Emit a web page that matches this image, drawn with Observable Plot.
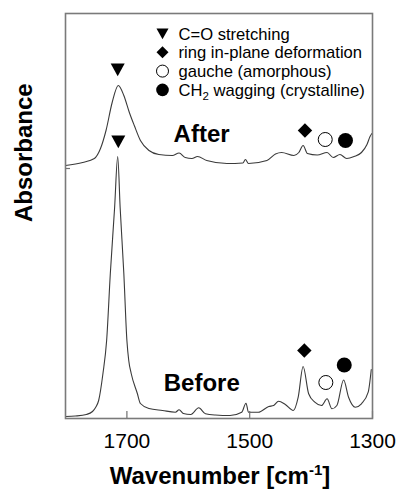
<!DOCTYPE html>
<html>
<head>
<meta charset="utf-8">
<script src="https://cdn.jsdelivr.net/npm/d3@7"></script>
<script src="https://cdn.jsdelivr.net/npm/@observablehq/plot@0.6"></script>
<style>
  html, body { margin: 0; padding: 0; background: #fff; }
  #chart { width: 401px; height: 489px; }
</style>
</head>
<body>
<div id="chart"></div>
<script>
// ---- data ----
const wavenumberTicks = [1700, 1500, 1300];
const absorbanceTicks = [2.5];

const afterWn  = [1800,1772,1753,1743,1734,1724,1714,1705,1696,1688,1678,1664,1648,1626,1615,1605,1594,1585,1570,1537,1511,1507,1502,1472,1458,1448,1428,1420,1413,1406,1390,1374,1364,1353,1342,1330,1318,1309,1304,1301];
const afterAbs = [2.53,2.56,2.60,2.70,2.88,3.16,3.33,3.23,3.06,2.93,2.78,2.68,2.64,2.63,2.655,2.61,2.60,2.62,2.58,2.55,2.555,2.59,2.55,2.58,2.645,2.66,2.63,2.66,2.73,2.65,2.635,2.66,2.61,2.64,2.60,2.62,2.66,2.74,2.82,2.85];

const beforeWn  = [1800,1784,1766,1756,1751,1746,1739,1733,1727,1720,1715,1711,1705,1700,1697,1693,1683,1678,1664,1642,1621,1615,1608,1596,1583,1572,1556,1532,1513,1506,1502,1486,1469,1461,1453,1442,1429,1421,1413,1404,1394,1383,1374,1366,1358,1347,1339,1328,1318,1307,1302];
const beforeAbs = [0.02,0.025,0.04,0.07,0.11,0.18,0.45,0.78,1.45,2.11,2.62,2.11,1.45,0.78,0.58,0.45,0.25,0.15,0.10,0.08,0.063,0.087,0.05,0.04,0.107,0.047,0.035,0.03,0.063,0.153,0.063,0.063,0.12,0.13,0.173,0.14,0.08,0.213,0.52,0.247,0.163,0.13,0.197,0.097,0.13,0.385,0.213,0.113,0.147,0.263,0.49];

const bandNames = ["C=O stretching", "ring in-plane deformation", "gauche (amorphous)", "CH2 wagging (crystalline)"];

const markerSpectrum = ["After","After","After","After","Before","Before","Before","Before"];
const markerBand     = [0,1,2,3,0,1,2,3];
const markerWn       = [1715,1410,1377,1344,1714,1411,1376,1346];
const markerAbs      = [3.49,2.88,2.79,2.78,2.77,0.68,0.36,0.535];

const spectrumLabels = ["After", "Before"];
const labelWn  = [1624, 1640];
const labelAbs = [2.763, 0.273];

const xLabel = "Wavenumber [cm-1]";
const yLabel = "Absorbance";

// ---- build tables ----
const spectra = [
  ...afterWn.map((w, i) => ({spectrum: "After", wn: w, abs: afterAbs[i]})),
  ...beforeWn.map((w, i) => ({spectrum: "Before", wn: w, abs: beforeAbs[i]}))
];
const markers = markerWn.map((w, i) => ({spectrum: markerSpectrum[i], band: markerBand[i], wn: w, abs: markerAbs[i]}));
const labels = spectrumLabels.map((t, i) => ({text: t, wn: labelWn[i], abs: labelAbs[i]}));

const triangleDown = {
  draw(ctx, size) {
    const r = Math.sqrt(size / Math.PI);
    ctx.moveTo(-r, -r * 0.85);
    ctx.lineTo(r, -r * 0.85);
    ctx.lineTo(0, r * 0.95);
    ctx.closePath();
  }
};
const bandStyle = [
  {symbol: triangleDown, fill: "black", stroke: "none", r: 7, lr: 6},
  {symbol: "diamond2", fill: "black", stroke: "none", r: 6.5, lr: 5.4},
  {symbol: "circle", fill: "white", stroke: "black", r: 7, lr: 6},
  {symbol: "circle", fill: "black", stroke: "none", r: 7.5, lr: 6.3}
];

const frameH = 489 - 13 - 71;
const frameW = 401 - 65 - 29;
const legendStep = 18.8;

const marks = [
  Plot.line(spectra, {x: "wn", y: "abs", z: "spectrum", stroke: "#3a3a3a", strokeWidth: 1.1, curve: "monotone-x"}),
  ...bandStyle.map((s, b) => Plot.dot(markers.filter(d => d.band === b), {
    x: "wn", y: "abs", symbol: s.symbol, r: s.r, fill: s.fill, stroke: s.stroke, strokeWidth: 1
  })),
  Plot.text(labels, {x: "wn", y: "abs", text: "text", textAnchor: "start", lineAnchor: "bottom", fontSize: 24, fontWeight: "bold", fill: "black"}),
  // legend
  ...bandNames.flatMap((name, i) => [
    Plot.dot([name], {frameAnchor: "top-left", dx: 97, dy: 20 + i * legendStep,
      symbol: bandStyle[i].symbol, r: bandStyle[i].lr, fill: bandStyle[i].fill, stroke: bandStyle[i].stroke, strokeWidth: 1}),
    Plot.text([name], {frameAnchor: "top-left", dx: 113, dy: 26 + i * legendStep, text: d => d,
      textAnchor: "start", lineAnchor: "bottom", fontSize: 16.6, fill: "black"})
  ]),
  // ticks pointing inward
  Plot.ruleX(wavenumberTicks, {x: d => d, stroke: "#707070", strokeWidth: 1.2, insetTop: frameH - 7}),
  Plot.ruleY(absorbanceTicks, {y: d => d, stroke: "#707070", strokeWidth: 1.2, insetRight: frameW - 5}),
  Plot.axisX(wavenumberTicks, {tickSize: 0, tickPadding: 15, fontSize: 21, label: null, tickFormat: d => String(d)}),
  Plot.frame({stroke: "#7a7a7a", strokeWidth: 1.6}),
  // axis titles
  Plot.text([xLabel], {frameAnchor: "bottom", dx: 1, dy: 65, text: d => d, lineAnchor: "bottom", fontSize: 24, fontWeight: "bold", fill: "black"}),
  Plot.text([yLabel], {frameAnchor: "left", dx: -34, dy: 6, text: d => d, rotate: -90, lineAnchor: "bottom", fontSize: 24, fontWeight: "bold", fill: "black"})
];

const chart = Plot.plot({
  width: 401,
  height: 489,
  marginLeft: 65,
  marginRight: 29,
  marginTop: 13,
  marginBottom: 71,
  x: {domain: [1800, 1300]},
  y: {domain: [0, 4.05], axis: null},
  style: {fontFamily: "'Liberation Sans', Arial, sans-serif", background: "white", color: "black"},
  marks
});
document.getElementById("chart").appendChild(chart);

// rich text: subscript / superscript
const NS = "http://www.w3.org/2000/svg";
chart.querySelectorAll("text").forEach(t => {
  const s = t.textContent;
  if (s === bandNames[3]) {
    t.textContent = "";
    const a = document.createElementNS(NS, "tspan"); a.textContent = "CH";
    const b = document.createElementNS(NS, "tspan"); b.textContent = "2"; b.setAttribute("font-size", "11.5"); b.setAttribute("dy", "4");
    const c = document.createElementNS(NS, "tspan"); c.textContent = " wagging (crystalline)"; c.setAttribute("dy", "-4");
    t.append(a, b, c);
  } else if (s === xLabel) {
    t.textContent = "";
    const a = document.createElementNS(NS, "tspan"); a.textContent = "Wavenumber [cm";
    const b = document.createElementNS(NS, "tspan"); b.textContent = "-1"; b.setAttribute("font-size", "15"); b.setAttribute("dy", "-9");
    const c = document.createElementNS(NS, "tspan"); c.textContent = "]"; c.setAttribute("dy", "9");
    t.append(a, b, c);
  }
});
</script>
</body>
</html>
